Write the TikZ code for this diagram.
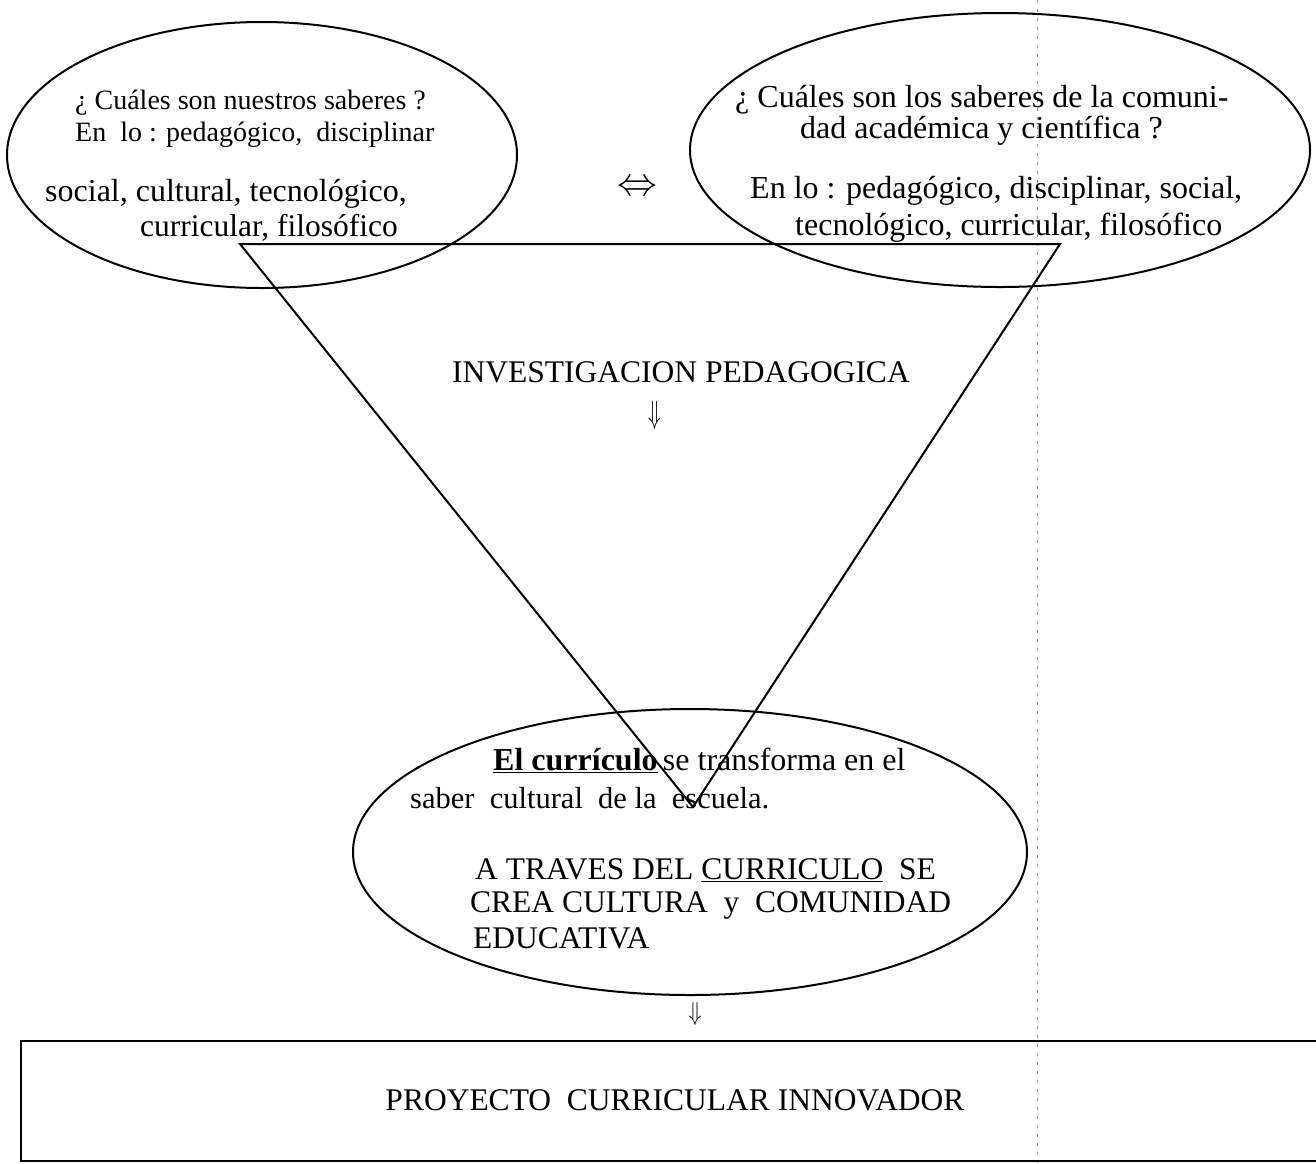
\documentclass[tikz,border=0pt]{standalone}
\usepackage{fontspec}
\setmainfont{Liberation Serif}
\usetikzlibrary{shapes.geometric}
\newcommand{\fS}{\fontsize{28}{33}\selectfont}
\newcommand{\fA}{\fontsize{28.5}{34}\selectfont}
\newcommand{\fB}{\fontsize{32}{38}\selectfont}
\newcommand{\fC}{\fontsize{31.5}{38}\selectfont}
\begin{document}
\begin{tikzpicture}[x=1pt,y=-1pt,
  txt/.style={inner sep=0pt, anchor=base west, font=\fB},
  sym/.style={inner sep=0pt, font=\fA},
  oval/.style={draw, ellipse, line width=2pt, inner sep=0pt},
  tri/.style={draw, line width=2pt, line join=miter},
  frame/.style={draw, line width=2pt, inner sep=0pt, anchor=north west}]
\useasboundingbox[fill=white] (0,0) rectangle (1316,1163);
% scan line
\draw[black!40, line width=0.7pt, dash pattern=on 3pt off 6pt] (1037,0) -- (1037,1163);
% ellipses
\node[oval, minimum width=510pt, minimum height=266pt] (L) at (262,155) {};
\node[oval, minimum width=620pt, minimum height=274pt] (R) at (1000,150) {};
\node[oval, minimum width=674pt, minimum height=286pt] (B) at (690,852) {};
% triangle
\coordinate (t1) at (240,244);
\coordinate (t2) at (1060,244);
\coordinate (t3) at (693,807);
\draw[tri] (t1) -- (t2) -- (t3) -- cycle;
% left texts
\node[txt, font=\fS] (l1) at (75,109) {¿ Cuáles son nuestros saberes ?};
\node[txt, font=\fS] (l2) at (75,141) {En\ \ lo : pedagógico,\ \ disciplinar};
\node[txt] (l3) at (45,201) {social, cultural, tecnológico,};
\node[txt, font=\fC] (l4) at (140,236) {curricular, filosófico};
% right texts
\node[txt] (r1) at (735,107) {¿ Cuáles son los saberes de la comuni-};
\node[txt] (r2) at (800,138) {dad académica y científica ?};
\node[txt] (r3) at (750,198) {En lo : pedagógico, disciplinar, social,};
\node[txt] (r4) at (795,235) {tecnológico, curricular, filosófico};
% arrows
\node[sym] (lr) at (637,188) {\scalebox{1.6}{$\Leftrightarrow$}};
\node[txt, font=\fC] (inv) at (452,382) {INVESTIGACION PEDAGOGICA};
\node[sym] (d1) at (655,415) {\scalebox{0.85}[1.3]{$\Downarrow$}};
% bottom ellipse text
\node[txt] (b1) at (493,770) {\textbf{\underline{El currículo}}\,se transforma en el};
\node[txt, font=\fontsize{30.5}{36}\selectfont] (b2) at (410,808) {saber\ \ cultural\ \ de la\ \ escuela.};
\node[txt, font=\fC] (b3) at (475,879) {A TRAVES DEL \underline{CURRICULO}\ \ SE};
\node[txt, font=\fC] (b4) at (470,912) {CREA CULTURA\ \ y\ \ COMUNIDAD};
\node[txt, font=\fC] (b5) at (473,948) {EDUCATIVA};
\node[sym] (d2) at (695,1014) {\scalebox{0.85}[1.05]{$\Downarrow$}};
% box
\node[frame, minimum width=1330pt, minimum height=120pt] (box) at (20,1040) {};
\node[sym, font=\fC] (pc) at (675,1100) {PROYECTO\ \ CURRICULAR INNOVADOR};
\end{tikzpicture}
\end{document}
